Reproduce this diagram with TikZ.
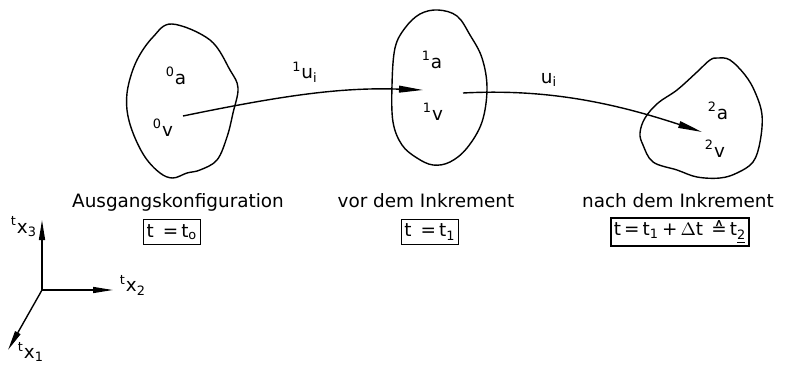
\documentclass[tikz,border=0pt]{standalone}
\usepackage{fontspec}
\setmainfont{DejaVu Sans}
\usetikzlibrary{arrows.meta}
\begin{document}
\begin{tikzpicture}[x=0.5pt, y=-0.5pt, line width=0.7pt,
        font=\fontsize{9.2}{11}\selectfont,
        vec/.style={-{Triangle[length=12pt, width=3.4pt]}},
        ax/.style={-{Triangle[length=10pt, width=3pt]}},
        tbox/.style={draw, line width=0.75pt, inner sep=1.5pt, minimum height=12.5pt}]
        \useasboundingbox (0,0) rectangle (786,369);

        % Koerper in den drei Konfigurationen
        \draw plot[smooth cycle, tension=0.6] coordinates {(172,24) (210,40) (230,70)
        (238,88) (233,113) (227,137) (217,160) (200,170) (187,173) (173,178)
        (160,173) (145,157) (133,133) (127,110) (128,87) (137,60) (153,37)};
        \draw plot[smooth cycle, tension=0.6] coordinates {(438,10) (457,16) (470,35)
        (482,58) (487,88) (482,122) (467,148) (450,162) (433,165) (417,158)
        (402,145) (393,122) (392,85) (395,48) (405,28) (420,14)};
        \draw plot[smooth cycle, tension=0.6] coordinates {(718,58) (730,60) (745,75)
        (755,92) (762,115) (760,142) (753,162) (737,173) (720,178) (697,177)
        (677,170) (653,162) (643,145) (640,133) (645,118) (658,103) (677,90)
        (697,72) (710,60)};

        \node (a0) at (176,76) {\textsuperscript{0}a};
        \node (v0) at (163,128) {\textsuperscript{0}v};
        \node (a1) at (432,60) {\textsuperscript{1}a};
        \node (v1) at (433,112) {\textsuperscript{1}v};
        \node (a2) at (718,111) {\textsuperscript{2}a};
        \node (v2) at (715,149) {\textsuperscript{2}v};

        % Verschiebungen
        \coordinate (p0) at (183,116);
        \coordinate (p1) at (423,90);
        \coordinate (q1) at (463,93);
        \coordinate (p2) at (702,132);
        \draw[vec] (p0) .. controls (280,96) and (340,87) .. (p1);
        \draw[vec] (q1) .. controls (540,89) and (605,100) .. (p2);
        \node (u1) at (305,72) {\textsuperscript{1}u\textsubscript{i}};
        \node (u2) at (549,80) {u\textsubscript{i}};

        % Beschriftung
        \node[anchor=base] (k0) at (178,207) {Ausgangskonfiguration};
        \node[anchor=base] (k1) at (426,207) {vor dem Inkrement};
        \node[anchor=base] (k2) at (678,207) {nach dem Inkrement};
        \node[tbox] (t0) at (172,232) {t \,=\,t\textsubscript{o}};
        \node[tbox] (t1) at (430,232) {t \,=\,t\textsubscript{1}};
        \node[tbox] (t2) at (680,232) {t\,=\,t\textsubscript{1}\,+\,$\Delta$t\;\,≙\,t\textsubscript{\underline{2}}};

        % Koordinatensystem
        \coordinate (O) at (42,290);
        \coordinate (e3) at (42,220);
        \coordinate (e2) at (113,290);
        \coordinate (e1) at (8,350);
        \draw[ax] (O) -- (e3);
        \draw[ax] (O) -- (e2);
        \draw[ax] (O) -- (e1);
        \node (x3) at (24,227) {\textsuperscript{t}x\textsubscript{3}};
        \node (x2) at (133,285) {\textsuperscript{t}x\textsubscript{2}};
        \node (x1) at (31,352) {\textsuperscript{t}x\textsubscript{1}};
\end{tikzpicture}
\end{document}
